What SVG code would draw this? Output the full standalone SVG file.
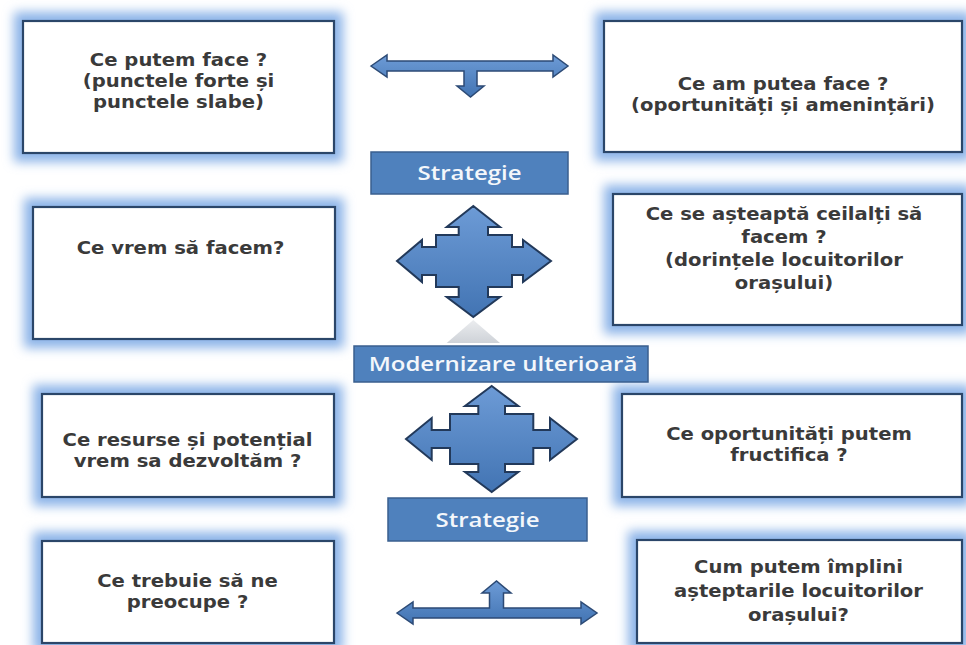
<svg xmlns="http://www.w3.org/2000/svg" width="966" height="645" viewBox="0 0 966 645">
<defs>
<filter id="glow" x="-20%" y="-30%" width="140%" height="160%">
<feGaussianBlur stdDeviation="5.5"/>
</filter>
<linearGradient id="arrowGrad" x1="0" y1="0" x2="0" y2="1">
<stop offset="0" stop-color="#6d9bd6"/>
<stop offset="1" stop-color="#4274b3"/>
</linearGradient>
<linearGradient id="reflGrad" x1="0" y1="0" x2="0" y2="1">
<stop offset="0" stop-color="#e6e8eb"/>
<stop offset="1" stop-color="#c2c7ce"/>
</linearGradient>
<style>
.glow{fill:#8cb4e8;filter:url(#glow)}
.box{fill:#ffffff;stroke:#2b4669;stroke-width:2.2}
.lbl{fill:#4f81bd;stroke:#3a5f8f;stroke-width:1.5}
.t{font-family:"DejaVu Sans","Liberation Sans",sans-serif;font-weight:bold;font-size:18px;fill:#3a3a3a;text-anchor:middle}
.w{font-family:"Open Sans","Liberation Sans",sans-serif;font-weight:600;font-size:20px;fill:#f4f7fb;text-anchor:middle}
.arr{fill:url(#arrowGrad);stroke:#2c4a75;stroke-width:1.5;stroke-linejoin:miter}
.quad{fill:url(#arrowGrad);stroke:#22395a;stroke-width:2;stroke-linejoin:miter}
</style>
</defs>
<rect width="966" height="645" fill="#ffffff"/>

<g id="connectors">
<path class="arr" d="M371,66 L387,55 L387,61 L553,61 L553,55 L568,66 L553,77 L553,71 L477,71 L477,86 L484,86 L470.5,97 L457,86 L464,86 L464,71 L387,71 L387,77 Z"/>
<polygon points="446.7,343 500,343 473.3,320" fill="url(#reflGrad)" opacity="0.8"/>
<path class="quad" d="M473.3,206 L500,227 L488,227 L488,235 L512,235 L512,247 L523,247 L523,240 L551,261 L523,282 L523,275 L512,275 L512,287 L488,287 L488,297 L500,297 L473.3,317 L446.7,297 L458.7,297 L458.7,287 L436,287 L436,275 L422,275 L422,282 L397,261 L422,240 L422,247 L436,247 L436,235 L458.7,235 L458.7,227 L446.7,227 Z"/>
<path class="quad" d="M491.7,386 L518.3,406 L505,406 L505,414 L533.3,414 L533.3,430 L550,430 L550,418 L577,439 L550,460 L550,448 L533.3,448 L533.3,464 L505,464 L505,472 L518.3,472 L491.7,492 L465,472 L478.3,472 L478.3,464 L450,464 L450,448 L431.7,448 L431.7,460 L406,439 L431.7,418 L431.7,430 L450,430 L450,414 L478.3,414 L478.3,406 L465,406 Z"/>
<path class="arr" d="M397,613 L413,602 L413,608 L489.5,608 L489.5,593 L482,593 L496.5,581 L511,593 L503.5,593 L503.5,608 L581,608 L581,602 L597,613 L581,624 L581,618 L413,618 L413,624 Z"/>
</g>

<g id="node-putem">
<rect class="glow" x="14" y="12" width="329" height="150"/>
<rect class="box" x="23" y="21" width="311" height="132"/>
<g transform="translate(178.5 0) scale(1.09 1)">
<text class="t" x="0" y="66">Ce putem  face ?<tspan x="0" dy="21">(punctele  forte și</tspan><tspan x="0" dy="21">punctele  slabe)</tspan></text>
</g>
</g>

<g id="node-am-putea">
<rect class="glow" x="595" y="12" width="376" height="149"/>
<rect class="box" x="604" y="21" width="358" height="131"/>
<g transform="translate(783 0) scale(1.09 1)">
<text class="t" x="0" y="90.5">Ce am putea  face ?<tspan x="0" dy="21">(oportunități  și  amenințări)</tspan></text>
</g>
</g>

<g id="node-vrem">
<rect class="glow" x="24" y="198" width="320" height="150"/>
<rect class="box" x="33" y="207" width="302" height="132"/>
<g transform="translate(180.5 0) scale(1.09 1)">
<text class="t" x="0" y="254">Ce vrem să facem?</text>
</g>
</g>

<g id="node-asteapta">
<rect class="glow" x="604" y="185" width="367" height="149"/>
<rect class="box" x="613" y="194" width="349" height="131"/>
<g transform="translate(784 0) scale(1.09 1)">
<text class="t" x="0" y="220">Ce se așteaptă ceilalți să<tspan x="0" dy="23">facem ?</tspan><tspan x="0" dy="23">(dorințele locuitorilor</tspan><tspan x="0" dy="23">orașului)</tspan></text>
</g>
</g>

<g id="node-resurse">
<rect class="glow" x="33" y="385" width="310" height="121"/>
<rect class="box" x="42" y="394" width="292" height="103"/>
<g transform="translate(187.5 0) scale(1.09 1)">
<text class="t" x="0" y="446">Ce resurse și potențial<tspan x="0" dy="21">vrem sa dezvoltăm  ?</tspan></text>
</g>
</g>

<g id="node-oportunitati">
<rect class="glow" x="613" y="385" width="358" height="121"/>
<rect class="box" x="622" y="394" width="340" height="103"/>
<g transform="translate(789 0) scale(1.09 1)">
<text class="t" x="0" y="440.5">Ce oportunități  putem<tspan x="0" dy="21">fructifica ?</tspan></text>
</g>
</g>

<g id="node-trebuie">
<rect class="glow" x="33" y="532" width="310" height="120"/>
<rect class="box" x="42" y="541" width="292" height="102"/>
<g transform="translate(187.5 0) scale(1.09 1)">
<text class="t" x="0" y="587">Ce trebuie să ne<tspan x="0" dy="21">preocupe ?</tspan></text>
</g>
</g>

<g id="node-implini">
<rect class="glow" x="628" y="531" width="343" height="121"/>
<rect class="box" x="637" y="540" width="325" height="103"/>
<g transform="translate(798.5 0) scale(1.09 1)">
<text class="t" x="0" y="573">Cum putem  împlini<tspan x="0" dy="24">așteptarile locuitorilor</tspan><tspan x="0" dy="24">orașului?</tspan></text>
</g>
</g>

<g id="label-strategie-1">
<rect class="lbl" x="371" y="152" width="197" height="42"/>
<g transform="translate(469.5 0) scale(1.2 1)">
<text class="w" x="0" y="180">Strategie</text>
</g>
</g>

<g id="label-modernizare">
<rect class="lbl" x="354" y="346" width="294" height="36"/>
<g transform="translate(503 0) scale(1.2 1)">
<text class="w" x="0" y="371">Modernizare ulterioară</text>
</g>
</g>

<g id="label-strategie-2">
<rect class="lbl" x="388" y="498" width="199" height="43"/>
<g transform="translate(487.5 0) scale(1.2 1)">
<text class="w" x="0" y="527">Strategie</text>
</g>
</g>
</svg>
